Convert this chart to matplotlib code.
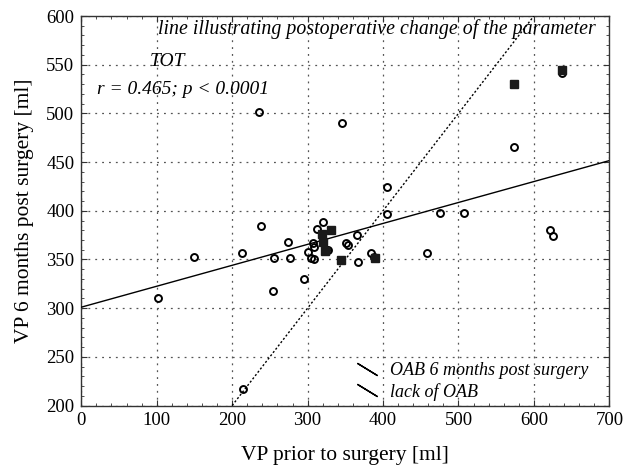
import matplotlib
matplotlib.use("Agg")
import matplotlib.pyplot as plt
from matplotlib.lines import Line2D
from matplotlib.ticker import MultipleLocator
import numpy as np

plt.rcParams['font.family'] = ['Liberation Serif', 'DejaVu Serif']

# lack of OAB (open circles)
lack_x = [101, 149, 213, 238, 236, 214, 254, 256, 274, 276, 295, 301, 304, 309, 307,
          308, 313, 321, 327, 346, 351, 353, 365, 367, 384, 388, 405, 405, 458, 475,
          508, 574, 622, 625, 637, 325]
lack_y = [310, 353, 357, 384, 501, 217, 318, 351, 368, 351, 330, 358, 352, 350, 367,
          363, 381, 388, 360, 490, 367, 365, 375, 347, 357, 353, 424, 397, 357, 398,
          398, 465, 380, 374, 541, 360]

# OAB 6 months post surgery (filled squares)
oab_x = [319, 331, 321, 323, 344, 390, 574, 637]
oab_y = [376, 380, 368, 359, 349, 351, 530, 545]

# regression line and identity line parameters
reg_intercept = 301.0
reg_slope = 0.215
ident_range = [200, 600]

fig = plt.figure(figsize=(6.27, 4.68), dpi=100)
ax = fig.add_axes([0.1297, 0.1335, 0.9718 - 0.1297, 0.9658 - 0.1335])

ax.set_xlim(0, 700)
ax.set_ylim(200, 600)

ax.xaxis.set_major_locator(MultipleLocator(100))
ax.xaxis.set_minor_locator(MultipleLocator(20))
ax.yaxis.set_major_locator(MultipleLocator(50))
ax.yaxis.set_minor_locator(MultipleLocator(10))
ax.tick_params(which='both', direction='in', top=True, right=True, color='#333333')
ax.tick_params(which='major', length=4, labelsize=13.5, pad=5)
ax.tick_params(which='minor', length=2)
ax.grid(True, which='major', linestyle=(0, (1.5, 4)), color='#555555', linewidth=0.9)
for s in ax.spines.values():
    s.set_color('#333333')
    s.set_linewidth(1.0)

xs = np.array([0, 700])
ax.plot(xs, reg_intercept + reg_slope * xs, color='black', lw=1.0, zorder=3)
ax.plot(ident_range, ident_range, color='black', lw=1.0, linestyle=(0, (1.5, 1.5)), zorder=3)

ax.plot(lack_x, lack_y, linestyle='none', marker='o', markersize=5,
        markerfacecolor='none', markeredgecolor='black', markeredgewidth=1.4, zorder=4)
ax.plot(oab_x, oab_y, linestyle='none', marker='s', markersize=5.5,
        markerfacecolor='#1a1a1a', markeredgecolor='#1a1a1a', zorder=5)

ax.set_xlabel('VP prior to surgery [ml]', fontsize=15.5, labelpad=12)
ax.set_ylabel('VP 6 months post surgery [ml]', fontsize=15.5, labelpad=9)

ax.text(0.145, 0.966, 'line illustrating postoperative change of the parameter',
        transform=ax.transAxes, style='italic', fontsize=14.3, va='center', ha='left')
ax.text(0.13, 0.882, 'TOT', transform=ax.transAxes, style='italic', fontsize=14,
        va='center', ha='left')
ax.text(0.029, 0.812, 'r = 0.465; p < 0.0001', transform=ax.transAxes, style='italic',
        fontsize=14, va='center', ha='left')

handles = [Line2D([], [], linestyle='none', marker=(2, 2, 58.5), markersize=17,
                  color='black', markeredgewidth=1.0),
           Line2D([], [], linestyle='none', marker=(2, 2, 58.5), markersize=17,
                  color='black', markeredgewidth=1.0)]
leg = ax.legend(handles, ['OAB 6 months post surgery', 'lack of OAB'],
                loc='lower left', bbox_to_anchor=(0.493, -0.02), frameon=False,
                prop={'style': 'italic', 'size': 13}, handlelength=1.4,
                handletextpad=0.58, labelspacing=0.2, borderaxespad=0.3)

fig.savefig('out.png', dpi=100)
